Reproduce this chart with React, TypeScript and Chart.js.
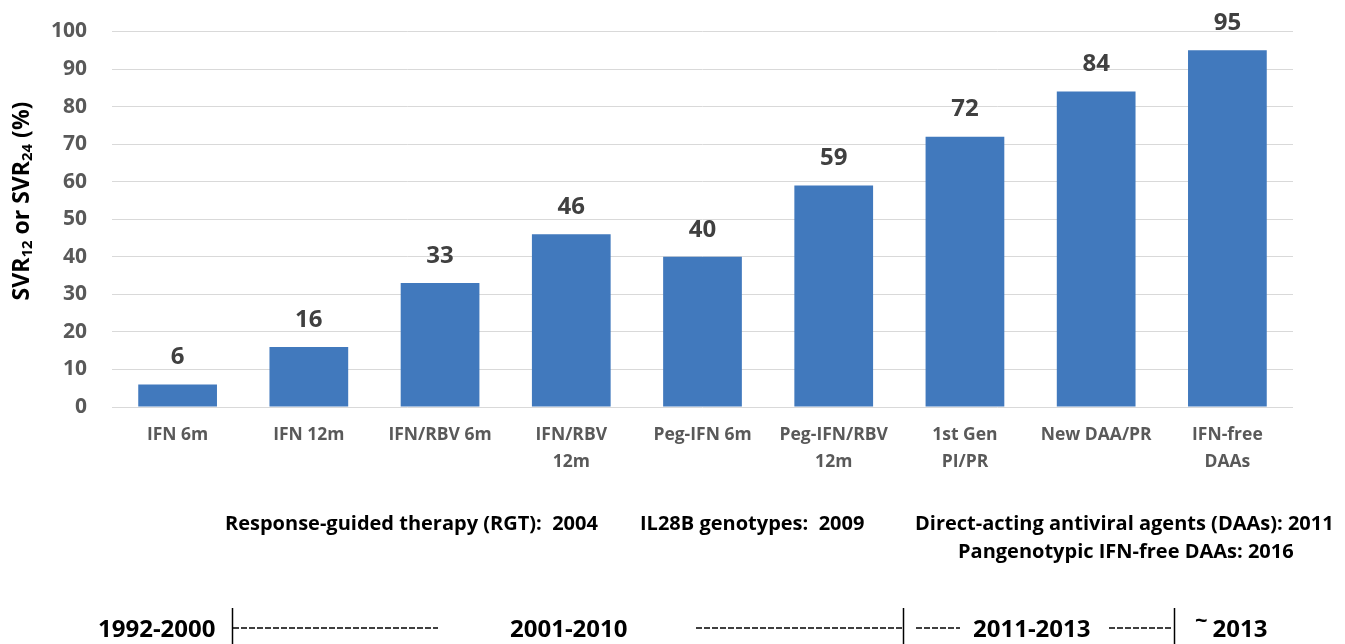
import React, { useEffect, useRef } from "react";
import { Chart, registerables } from "chart.js";

Chart.register(...registerables);

const categories: string[][] = [
  ["IFN 6m"],
  ["IFN 12m"],
  ["IFN/RBV 6m"],
  ["IFN/RBV", "12m"],
  ["Peg-IFN 6m"],
  ["Peg-IFN/RBV", "12m"],
  ["1st Gen", "PI/PR"],
  ["New DAA/PR"],
  ["IFN-free", "DAAs"],
];
const svrValues = [6, 16, 33, 46, 40, 59, 72, 84, 95];
const yMin = 0;
const yMax = 100;
const yStep = 10;

const milestoneLines = [
  { text: "Response-guided therapy (RGT):  2004", x: 225, y: 524 },
  { text: "IL28B genotypes:  2009", x: 640, y: 524 },
  { text: "Direct-acting antiviral agents (DAAs): 2011", x: 915, y: 524 },
  { text: "Pangenotypic IFN-free DAAs: 2016", x: 958, y: 552 },
];
const eraLabels = [
  { prefix: "", text: "1992-2000", x: 98 },
  { prefix: "", text: "2001-2010", x: 510 },
  { prefix: "", text: "2011-2013", x: 973 },
  { prefix: "~", text: "2013", x: 1195 },
];
const eraSeparators = [232, 903, 1174];
const eraDashes = [
  [233, 438],
  [696, 902],
  [916, 960],
  [1109, 1173],
];

const FONT = "'Open Sans', sans-serif";

export default function App() {
  const ref = useRef<HTMLCanvasElement>(null);

  useEffect(() => {
    if (!ref.current) return;
    const labelPlugin = {
      id: "extras",
      afterDatasetsDraw(chart: any) {
        const ctx = chart.ctx;
        const meta = chart.getDatasetMeta(0);
        ctx.save();
        ctx.fillStyle = "#404040";
        ctx.font = `bold 24px ${FONT}`;
        ctx.textAlign = "center";
        ctx.textBaseline = "middle";
        meta.data.forEach((bar: any, i: number) => {
          ctx.fillText(String(svrValues[i]), bar.x, bar.y - 27);
        });
        ctx.restore();
      },
      afterDraw(chart: any) {
        const ctx = chart.ctx;
        ctx.save();
        // y-axis title with subscripts
        ctx.translate(22, 201);
        ctx.rotate(-Math.PI / 2);
        ctx.fillStyle = "#000";
        ctx.textBaseline = "middle";
        const parts: [string, boolean][] = [
          ["SVR", false],
          ["12", true],
          [" or SVR", false],
          ["24", true],
          [" (%)", false],
        ];
        const big = `bold 23px ${FONT}`;
        const small = `bold 15px ${FONT}`;
        let total = 0;
        parts.forEach(([t, sub]) => {
          ctx.font = sub ? small : big;
          total += ctx.measureText(t).width;
        });
        let x = -total / 2;
        ctx.textAlign = "left";
        parts.forEach(([t, sub]) => {
          ctx.font = sub ? small : big;
          ctx.fillText(t, x, sub ? 6 : 0);
          x += ctx.measureText(t).width;
        });
        ctx.restore();

        // milestone annotations
        ctx.save();
        ctx.fillStyle = "#000";
        ctx.textAlign = "left";
        ctx.textBaseline = "middle";
        ctx.font = `bold 20px ${FONT}`;
        milestoneLines.forEach((m) => ctx.fillText(m.text, m.x, m.y));

        // era timeline
        eraLabels.forEach((e) => {
          let ex = e.x;
          if (e.prefix) {
            ctx.font = `bold 22px ${FONT}`;
            ctx.fillText(e.prefix, ex, 622);
            ex += ctx.measureText(e.prefix).width + 5;
          }
          ctx.font = `bold 24px ${FONT}`;
          ctx.fillText(e.text, ex, 630);
        });
        ctx.strokeStyle = "#000";
        ctx.lineWidth = 1.5;
        eraSeparators.forEach((sx) => {
          ctx.beginPath();
          ctx.moveTo(sx + 0.5, 608);
          ctx.lineTo(sx + 0.5, 644);
          ctx.stroke();
        });
        ctx.lineWidth = 1.5;
        ctx.setLineDash([6, 2]);
        eraDashes.forEach(([a, b]) => {
          ctx.beginPath();
          ctx.moveTo(a, 628);
          ctx.lineTo(b, 628);
          ctx.stroke();
        });
        ctx.restore();
      },
    };

    const chart = new Chart(ref.current, {
      type: "bar",
      data: {
        labels: categories,
        datasets: [
          {
            data: svrValues,
            backgroundColor: "#4179bd",
            borderWidth: 0,
            barPercentage: 0.6,
            categoryPercentage: 1,
          },
        ],
      },
      options: {
        responsive: false,
        animation: false,
        layout: { padding: { left: 0, right: 52, top: 31.5, bottom: 0 } },
        plugins: {
          legend: { display: false },
          title: { display: false },
          tooltip: { enabled: false },
        },
        scales: {
          x: {
            grid: { display: false, drawTicks: false },
            border: { display: false },
            ticks: {
              color: "#595959",
              font: { family: FONT, size: 17.5, weight: "bold", lineHeight: 1.55 },
              padding: 14,
              maxRotation: 0,
              autoSkip: false,
            },
            afterFit: (scale: any) => {
              scale.height = 237;
              scale.paddingLeft = 0;
              scale.paddingRight = 0;
            },
          },
          y: {
            min: yMin,
            max: yMax,
            grid: { color: "#d9d9d9", lineWidth: 1, drawTicks: false },
            border: { display: false },
            ticks: {
              stepSize: yStep,
              color: "#595959",
              font: { family: FONT, size: 21, weight: "bold" },
              padding: 25,
            },
            afterFit: (scale: any) => {
              scale.width = 112;
              scale.paddingTop = 0;
              scale.paddingBottom = 0;
            },
          },
        },
      },
      plugins: [labelPlugin],
    });
    return () => chart.destroy();
  }, []);

  return (
    <div style={{ position: "absolute", left: 0, top: 0, width: 1345, height: 644, background: "#fff" }}>
      <canvas ref={ref} width={1345} height={644} style={{ display: "block" }} />
    </div>
  );
}
